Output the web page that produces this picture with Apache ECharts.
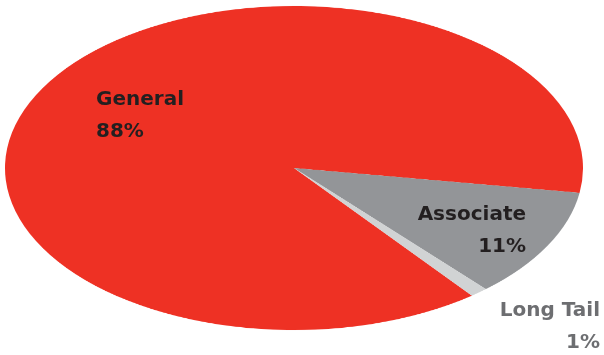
<!DOCTYPE html>
<html>
<head>
<meta charset="utf-8">
<script src="https://cdn.jsdelivr.net/npm/echarts@6/dist/echarts.min.js"></script>
<style>
    body{margin:0;background:#fff;}
    #wrap{position:relative;width:604px;height:355px;overflow:hidden;}
    /* pie drawn as a circle, then squashed into the ellipse of the original */
    #pie{position:absolute;left:5px;top:-121px;width:578px;height:578px;transform:scaleY(0.5606);transform-origin:50% 50%;}
    #labels{position:absolute;left:0;top:0;width:604px;height:355px;}
</style>
</head>
<body>
<div id="wrap">
    <div id="pie"></div>
    <div id="labels"></div>
</div>
<script>
    const categories = ['General', 'Associate', 'Long Tail'];
    const shares = [88, 11, 1];

    const sliceColors = ['#EE3124', '#939598', '#D1D3D4'];
    const textColors = ['#231F20', '#231F20', '#6D6E71'];
    // x, y of the name line, alignment
    const labelAnchors = [[96, 100, 'left'], [526, 215, 'right'], [600, 311, 'right']];

    let pieChart = echarts.init(document.getElementById('pie'));
    pieChart.setOption({
        animation: false,
        series: [{
            type: 'pie',
            radius: '100%',
            center: ['50%', '50%'],
            startAngle: -52,
            clockwise: true,
            silent: true,
            label: {show: false},
            labelLine: {show: false},
            itemStyle: {borderWidth: 0},
            data: categories.map((name, i) => ({
                name: name,
                value: shares[i],
                itemStyle: {color: sliceColors[i]}
            }))
        }]
    });

    // labels sit on a plain overlay so the squash does not distort the text
    let labelChart = echarts.init(document.getElementById('labels'));
    let texts = [];
    categories.forEach((name, i) => {
        let a = labelAnchors[i];
        [name, shares[i] + '%'].forEach((line, k) => {
            texts.push({
                type: 'text',
                x: a[0],
                y: a[1] + k * 32,
                style: {
                    text: line,
                    fill: textColors[i],
                    font: 'bold 20px "DejaVu Sans"',
                    textAlign: a[2],
                    textVerticalAlign: 'middle'
                }
            });
        });
    });
    labelChart.setOption({animation: false, graphic: texts});
</script>
</body>
</html>
